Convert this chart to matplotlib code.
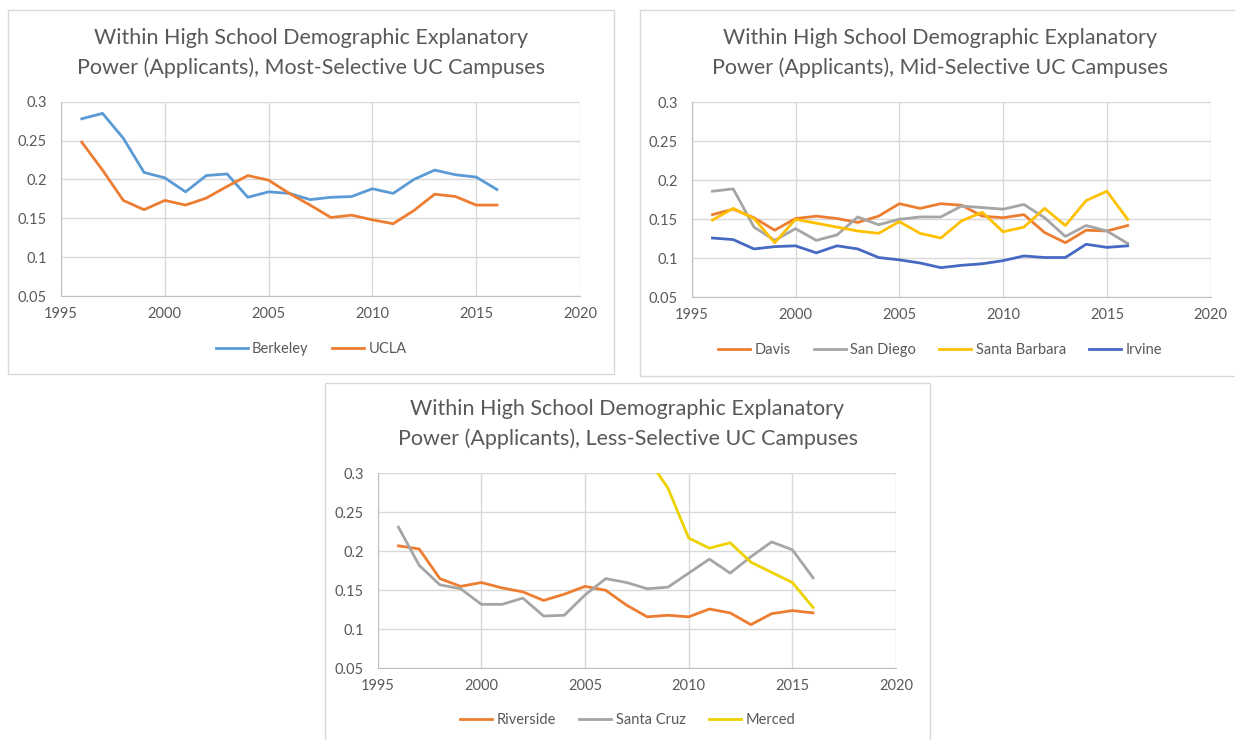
import matplotlib
matplotlib.use("Agg")
import matplotlib.pyplot as plt
from matplotlib.patches import Rectangle
from matplotlib.ticker import FuncFormatter, MultipleLocator

plt.rcParams["font.family"] = ["Lato", "DejaVu Sans"]

W, H = 1235, 740

years = list(range(1996, 2017))

# most selective
berkeley = [0.278, 0.285, 0.253, 0.209, 0.202, 0.184, 0.205, 0.207, 0.177, 0.184, 0.182,
            0.174, 0.177, 0.178, 0.188, 0.182, 0.200, 0.212, 0.206, 0.203, 0.187]
ucla = [0.248, 0.212, 0.173, 0.161, 0.173, 0.167, 0.176, 0.191, 0.205, 0.199, 0.182,
        0.167, 0.151, 0.154, 0.148, 0.143, 0.160, 0.181, 0.178, 0.167, 0.167]

# mid selective
davis = [0.156, 0.163, 0.152, 0.136, 0.151, 0.154, 0.151, 0.146, 0.154, 0.170, 0.164,
         0.170, 0.168, 0.154, 0.152, 0.156, 0.133, 0.120, 0.136, 0.135, 0.142]
san_diego = [0.186, 0.189, 0.140, 0.123, 0.138, 0.123, 0.130, 0.153, 0.143, 0.150, 0.153,
             0.153, 0.167, 0.165, 0.163, 0.169, 0.152, 0.128, 0.142, 0.135, 0.119]
santa_barbara = [0.149, 0.164, 0.151, 0.120, 0.150, 0.145, 0.140, 0.135, 0.132, 0.147, 0.132,
                 0.126, 0.148, 0.159, 0.134, 0.140, 0.164, 0.142, 0.174, 0.186, 0.150]
irvine = [0.126, 0.124, 0.112, 0.115, 0.116, 0.107, 0.116, 0.112, 0.101, 0.098, 0.094,
          0.088, 0.091, 0.093, 0.097, 0.103, 0.101, 0.101, 0.118, 0.114, 0.116]

# less selective
riverside = [0.207, 0.203, 0.165, 0.155, 0.160, 0.153, 0.148, 0.137, 0.145, 0.155, 0.150,
             0.131, 0.116, 0.118, 0.116, 0.126, 0.121, 0.106, 0.120, 0.124, 0.121]
santa_cruz = [0.231, 0.182, 0.157, 0.152, 0.132, 0.132, 0.140, 0.117, 0.118, 0.144, 0.165,
              0.160, 0.152, 0.154, 0.172, 0.190, 0.172, 0.193, 0.212, 0.202, 0.166]
merced_years = list(range(2008, 2017))
merced = [0.320, 0.281, 0.217, 0.204, 0.211, 0.186, 0.173, 0.160, 0.128]

title_1 = "Within High School Demographic Explanatory\nPower (Applicants), Most-Selective UC Campuses"
title_2 = "Within High School Demographic Explanatory\nPower (Applicants), Mid-Selective UC Campuses"
title_3 = "Within High School Demographic Explanatory\nPower (Applicants), Less-Selective UC Campuses"

BLUE = "#5B9BD5"
ORANGE = "#ED7D31"
GRAY = "#A5A5A5"
GOLD = "#FFC000"
DBLUE = "#4669C4"
YELLOW = "#EDD200"
TXT = "#595959"
GRID = "#D9D9D9"


def fx(px):
    return px / W


def fy(py):
    return 1 - py / H


def panel(fig, box, plot, title, title_y, legend_y, series):
    # box: chart area (left, top, right, bottom) in pixels
    l, t, r, b = box
    fig.patches.append(Rectangle((fx(l), fy(b)), fx(r - l), (b - t) / H,
                                 transform=fig.transFigure, fill=False,
                                 edgecolor=GRID, linewidth=1))
    pl, pt, pr, pb = plot
    ax = fig.add_axes([fx(pl), fy(pb), fx(pr - pl), (pb - pt) / H])
    for x, y, label, color in series:
        ax.plot(x, y, color=color, lw=2.0, label=label, solid_joinstyle="round")
    ax.set_xlim(1995, 2020)
    ax.set_ylim(0.05, 0.3)
    ax.xaxis.set_major_locator(MultipleLocator(5))
    ax.yaxis.set_major_locator(MultipleLocator(0.05))
    ax.yaxis.set_major_formatter(FuncFormatter(lambda v, p: f"{v:g}"))
    ax.grid(True, color=GRID, lw=1)
    ax.set_axisbelow(True)
    for s in ["top", "right"]:
        ax.spines[s].set_visible(False)
    for s in ["left", "bottom"]:
        ax.spines[s].set_color("#BFBFBF")
    ax.tick_params(length=0, labelsize=10.5, colors=TXT)
    ax.tick_params(axis="x", pad=8)
    ax.tick_params(axis="y", pad=10)
    cx = (l + r) / 2
    fig.text(fx(cx), fy(title_y), title, ha="center", va="center",
             fontsize=15.5, color=TXT, linespacing=1.6)
    fig.legend(*ax.get_legend_handles_labels(), loc="center",
               bbox_to_anchor=(fx(cx), fy(legend_y)), ncol=len(series),
               frameon=False, fontsize=10.5, labelcolor=TXT, handlelength=2.2,
               handletextpad=0.3, columnspacing=1.6)
    return ax


fig = plt.figure(figsize=(W / 100, H / 100), dpi=100)

panel(fig, (8, 10, 614, 374), (61, 101.7, 580, 296), title_1, 53, 349,
      [(years, berkeley, "Berkeley", BLUE), (years, ucla, "UCLA", ORANGE)])

panel(fig, (640, 10, 1240, 376), (691.7, 102.3, 1210.7, 297.3), title_2, 53, 350,
      [(years, davis, "Davis", ORANGE), (years, san_diego, "San Diego", GRAY),
       (years, santa_barbara, "Santa Barbara", GOLD), (years, irvine, "Irvine", DBLUE)])

panel(fig, (325, 383, 930, 745), (377.7, 473.3, 896, 668.3), title_3, 424, 720,
      [(years, riverside, "Riverside", ORANGE), (years, santa_cruz, "Santa Cruz", GRAY),
       (merced_years, merced, "Merced", YELLOW)])

fig.savefig("out.png", dpi=100, facecolor="white")
